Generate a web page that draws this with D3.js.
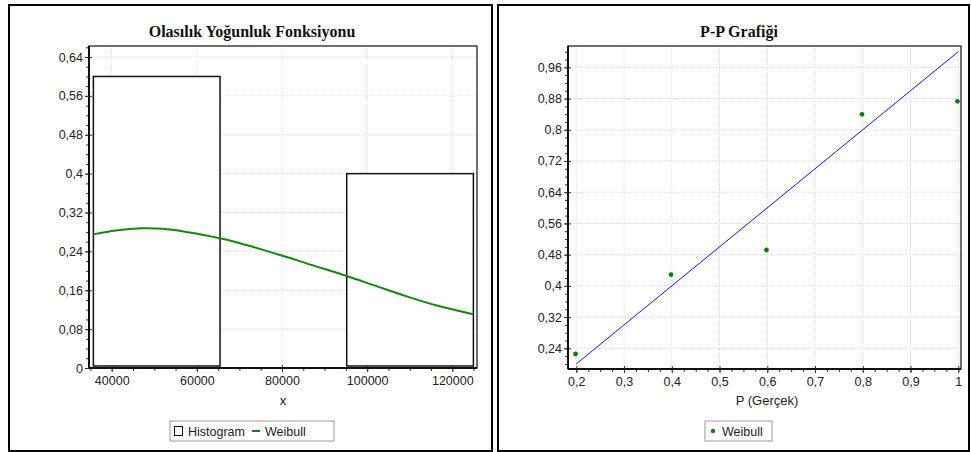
<!DOCTYPE html>
<html>
<head>
<meta charset="utf-8">
<script src="https://cdn.jsdelivr.net/npm/d3@7"></script>
<style>
  body { margin: 0; background: #fff; }
  svg text { font-family: "Liberation Sans", Arial, sans-serif; fill: #222; }
  .title { font-family: "Liberation Serif", "Times New Roman", serif !important; font-weight: bold; fill: #111 !important; }
</style>
</head>
<body>
<svg id="chart" width="971" height="452"></svg>
<script>
// histogram (relative frequency per bin)
var binEdges = [35700, 65450, 95200, 124950];
var binValues = [0.6, 0, 0.4];

// weibull density curve (scaled)
var curveX = [35700, 41000, 47000, 52000, 57200, 65440, 72480, 80700, 87280, 95200, 101840, 108890, 116400, 124930];
var curveY = [0.275, 0.283, 0.2875, 0.2865, 0.2805, 0.267, 0.251, 0.2295, 0.2112, 0.1893, 0.1695, 0.1485, 0.1285, 0.1105];

// P-P plot
var ppX = [0.2, 0.4, 0.6, 0.8, 1];
var ppY = [0.2254, 0.4286, 0.4919, 0.8395, 0.8729];
var refLine = [0.2, 1];

var histYTicks = [0, 0.08, 0.16, 0.24, 0.32, 0.4, 0.48, 0.56, 0.64];
var histXTicks = [40000, 60000, 80000, 100000, 120000];
var ppYTicks = [0.24, 0.32, 0.4, 0.48, 0.56, 0.64, 0.72, 0.8, 0.88, 0.96];
var ppXTicks = [0.2, 0.3, 0.4, 0.5, 0.6, 0.7, 0.8, 0.9, 1];

var loc = d3.formatLocale({decimal: ",", thousands: "", grouping: [3], currency: ["", ""]});
var fmt = loc.format("~g");

var svg = d3.select("#chart");

// outer panel frames
svg.append("rect").attr("x", 9).attr("y", 5).attr("width", 483).attr("height", 446)
    .attr("fill", "none").attr("stroke", "#000").attr("stroke-width", 2);
svg.append("rect").attr("x", 498).attr("y", 5).attr("width", 471).attr("height", 446)
    .attr("fill", "none").attr("stroke", "#000").attr("stroke-width", 2);

function frame(g, x, y, left, right, top, bottom, xMajor, yMajor) {
    // grid
    g.append("g").selectAll("line").data(xMajor).join("line")
        .attr("x1", function(d) { return x(d); }).attr("x2", function(d) { return x(d); })
        .attr("y1", top).attr("y2", bottom)
        .attr("stroke", "#dcdcdc").attr("stroke-dasharray", "1,1");
    g.append("g").selectAll("line").data(yMajor).join("line")
        .attr("y1", function(d) { return y(d); }).attr("y2", function(d) { return y(d); })
        .attr("x1", left).attr("x2", right)
        .attr("stroke", "#dcdcdc").attr("stroke-dasharray", "1,1");
    // plot border
    g.append("rect").attr("x", left).attr("y", top).attr("width", right - left).attr("height", bottom - top)
        .attr("fill", "none").attr("stroke", "#111").attr("stroke-width", 1.2);
}

function axes(g, x, y, left, bottom, xMajor, xMinor, yMajor, yMinor) {
    var ax = g.append("g").attr("transform", "translate(0," + bottom + ")");
    ax.call(d3.axisBottom(x).tickValues(xMinor).tickSize(3).tickFormat(""));
    ax.select(".domain").remove();
    var ax2 = g.append("g").attr("transform", "translate(0," + bottom + ")")
        .call(d3.axisBottom(x).tickValues(xMajor).tickSize(4).tickPadding(4).tickFormat(fmt));
    ax2.select(".domain").remove();
    ax2.selectAll("text").style("font-size", "12.5px");
    g.append("g").attr("transform", "translate(0," + bottom + ")")
        .call(d3.axisBottom(x).tickValues(xMajor).tickSize(-3).tickFormat(""))
        .select(".domain").remove();

    var ay = g.append("g").attr("transform", "translate(" + left + ",0)");
    ay.call(d3.axisLeft(y).tickValues(yMinor).tickSize(3).tickFormat(""));
    ay.select(".domain").remove();
    var ay2 = g.append("g").attr("transform", "translate(" + left + ",0)")
        .call(d3.axisLeft(y).tickValues(yMajor).tickSize(4).tickPadding(2).tickFormat(fmt));
    ay2.select(".domain").remove();
    ay2.selectAll("text").style("font-size", "12.5px");
    g.append("g").attr("transform", "translate(" + left + ",0)")
        .call(d3.axisLeft(y).tickValues(yMajor).tickSize(-3).tickFormat(""))
        .select(".domain").remove();
    g.selectAll(".tick line").attr("stroke", "#333");

    // heavy axis lines
    var xr = x.range(), yr = y.range();
    g.append("line").attr("x1", xr[0]).attr("x2", xr[1]).attr("y1", bottom).attr("y2", bottom)
        .attr("stroke", "#111").attr("stroke-width", 2);
    g.append("line").attr("x1", left).attr("x2", left).attr("y1", yr[0]).attr("y2", yr[1])
        .attr("stroke", "#111").attr("stroke-width", 2);
}

// ---------- left: histogram + weibull ----------
var L = {left: 89, right: 477, top: 46, bottom: 368};
var x1 = d3.scaleLinear().domain([34670, 125800]).range([L.left, L.right]);
var y1 = d3.scaleLinear().domain([0, 0.6627]).range([L.bottom, L.top]);
var g1 = svg.append("g");
frame(g1, x1, y1, L.left, L.right, L.top, L.bottom, histXTicks, histYTicks);

g1.append("g").selectAll("rect").data(binValues).join("rect")
    .attr("x", function(d, i) { return x1(binEdges[i]); })
    .attr("width", function(d, i) { return x1(binEdges[i + 1]) - x1(binEdges[i]); })
    .attr("y", function(d) { return y1(d); })
    .attr("height", function(d) { return L.bottom - y1(d) - 2; })
    .attr("fill", "#fff").attr("stroke", "#111").attr("stroke-width", 1.5);

var curve = d3.line()
    .x(function(d, i) { return x1(curveX[i]); })
    .y(function(d) { return y1(d); })
    .curve(d3.curveCatmullRom.alpha(0.5));
g1.append("path").datum(curveY).attr("d", curve)
    .attr("fill", "none").attr("stroke", "#0d8a0d").attr("stroke-width", 2);

axes(g1, x1, y1, L.left, L.bottom, histXTicks, d3.range(35000, 125001, 5000),
    histYTicks, d3.range(0, 0.6601, 0.02));

g1.append("text").attr("class", "title").attr("x", 252).attr("y", 37)
    .attr("text-anchor", "middle").style("font-size", "16px").text("Olasılık Yoğunluk Fonksiyonu");
g1.append("text").attr("x", 283).attr("y", 405).attr("text-anchor", "middle")
    .style("font-size", "13px").text("x");

// legend
var lg1 = g1.append("g");
lg1.append("rect").attr("x", 170).attr("y", 421).attr("width", 164).attr("height", 20)
    .attr("fill", "#fff").attr("stroke", "#aaa").attr("stroke-width", 1.2);
lg1.append("rect").attr("x", 174.5).attr("y", 426.5).attr("width", 8).attr("height", 9)
    .attr("fill", "#fff").attr("stroke", "#111").attr("stroke-width", 1);
lg1.append("text").attr("x", 188).attr("y", 435.5).style("font-size", "12.5px").text("Histogram");
lg1.append("line").attr("x1", 252).attr("x2", 260).attr("y1", 431).attr("y2", 431)
    .attr("stroke", "#0d8a0d").attr("stroke-width", 2);
lg1.append("text").attr("x", 265).attr("y", 435.5).style("font-size", "12.5px").text("Weibull");

// ---------- right: P-P plot ----------
var R = {left: 568, right: 961, top: 46, bottom: 369};
var x2 = d3.scaleLinear().domain([0.1826, 1.0057]).range([R.left, R.right]);
var y2 = d3.scaleLinear().domain([0.187, 1.0146]).range([R.bottom, R.top]);
var g2 = svg.append("g");
frame(g2, x2, y2, R.left, R.right, R.top, R.bottom, ppXTicks, ppYTicks);

g2.append("line")
    .attr("x1", x2(refLine[0])).attr("y1", y2(refLine[0]))
    .attr("x2", x2(refLine[1])).attr("y2", y2(refLine[1]))
    .attr("stroke", "#1010ff").attr("stroke-width", 1);

g2.append("g").selectAll("circle").data(ppY).join("circle")
    .attr("cx", function(d, i) { return x2(ppX[i]) - 0.8; })
    .attr("cy", function(d) { return y2(d); })
    .attr("r", 2.4).attr("fill", "#078007");

axes(g2, x2, y2, R.left, R.bottom, ppXTicks, d3.range(0.2, 1.0001, 0.025),
    ppYTicks, d3.range(0.2, 1.0001, 0.02));

g2.append("text").attr("class", "title").attr("x", 739).attr("y", 37)
    .attr("text-anchor", "middle").style("font-size", "16px").text("P-P Grafiği");
g2.append("text").attr("x", 767).attr("y", 405).attr("text-anchor", "middle")
    .style("font-size", "13px").text("P (Gerçek)");

var lg2 = g2.append("g");
lg2.append("rect").attr("x", 705).attr("y", 421).attr("width", 67).attr("height", 20)
    .attr("fill", "#fff").attr("stroke", "#aaa").attr("stroke-width", 1.2);
lg2.append("circle").attr("cx", 713).attr("cy", 431).attr("r", 2.2).attr("fill", "#078007");
lg2.append("text").attr("x", 722).attr("y", 435.5).style("font-size", "12.5px").text("Weibull");
</script>
</body>
</html>
